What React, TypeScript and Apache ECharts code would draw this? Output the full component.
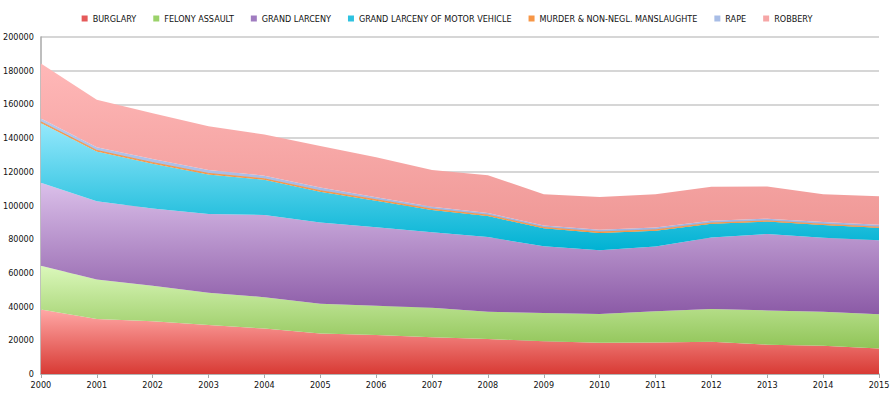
import React, { useEffect, useRef } from "react";
import * as echarts from "echarts";

const years = ["2000","2001","2002","2003","2004","2005","2006","2007","2008","2009","2010","2011","2012","2013","2014","2015"];
const burglary = [38352,32694,31275,29110,26976,23982,23143,21762,20725,19430,18600,18720,19168,17429,16765,15125];
const felonyAssault = [25924,23453,21147,19139,18622,17750,17309,17493,16284,16773,16956,18482,19381,20297,20207,20270];
const grandLarceny = [49237,46329,45771,46751,48763,48243,46625,44924,44242,39580,37835,38501,42497,45368,43862,44005];
const grandLarcenyMV = [35442,29531,26656,23413,20884,18246,15745,13174,12482,10670,10329,9314,8093,7400,7664,7332];
const murder = [673,649,587,597,570,539,596,496,523,471,536,515,419,335,333,352];
const rape = [2068,1930,2144,2070,1905,1858,1525,1351,1299,1205,1373,1420,1445,1378,1352,1438];
const robbery = [32562,28202,27229,25989,24373,24722,23739,21809,22401,18601,19486,19717,20144,19128,16539,16931];

const seriesDefs = [
  { name: "BURGLARY", data: burglary, solid: "#e55a5a", top: "#ffa8a6", bottom: "#d83a34" },
  { name: "FELONY ASSAULT", data: felonyAssault, solid: "#9bd26a", top: "#dbf8bb", bottom: "#90c457" },
  { name: "GRAND LARCENY", data: grandLarceny, solid: "#a07cc0", top: "#dbc0ea", bottom: "#8b5aa6" },
  { name: "GRAND LARCENY OF MOTOR VEHICLE", data: grandLarcenyMV, solid: "#2ec2e0", top: "#95e8fc", bottom: "#00b2d3" },
  { name: "MURDER & NON-NEGL. MANSLAUGHTE", data: murder, solid: "#f79646", top: "#f79646", bottom: "#f08a30" },
  { name: "RAPE", data: rape, solid: "#a8bde6", top: "#b4c8ee", bottom: "#9fb4e0" },
  { name: "ROBBERY", data: robbery, solid: "#f6a6a6", top: "#ffb8b8", bottom: "#ef9896" },
];

export default function App() {
  const ref = useRef<HTMLDivElement>(null);
  useEffect(() => {
    if (!ref.current) return;
    const chart = echarts.init(ref.current, null, { renderer: "svg" });
    const font = "'DejaVu Sans Condensed', 'DejaVu Sans', sans-serif";
    chart.setOption({
      animation: false,
      backgroundColor: "#ffffff",
      legend: {
        top: 9,
        left: "center",
        icon: "rect",
        itemWidth: 6,
        itemHeight: 6,
        itemGap: 17,
        textStyle: { fontFamily: font, fontSize: 9, color: "#111" },
        data: seriesDefs.map((s) => s.name),
      },
      grid: { left: 40, right: 15, top: 37, bottom: 22 },
      xAxis: {
        type: "category",
        data: years,
        boundaryGap: false,
        axisLine: { lineStyle: { color: "#a8a8a8", width: 1.5 } },
        axisTick: { show: true, length: 4, lineStyle: { color: "#a8a8a8" } },
        axisLabel: { fontFamily: font, fontSize: 9, color: "#111", margin: 6 },
      },
      yAxis: {
        type: "value",
        min: 0,
        max: 200000,
        interval: 20000,
        axisLine: { show: true, lineStyle: { color: "#a8a8a8", width: 1.5 } },
        axisTick: { show: false },
        axisLabel: {
          fontFamily: font,
          fontSize: 9,
          color: "#111",
          margin: 7,
          formatter: (v: number) => String(v),
        },
        splitLine: { lineStyle: { color: "#c8c8c8", width: 1.5 } },
      },
      series: seriesDefs.map((s) => ({
        name: s.name,
        type: "line",
        stack: "total",
        data: s.data,
        showSymbol: false,
        symbol: "none",
        itemStyle: { color: s.solid },
        lineStyle: s.name.startsWith("MURDER")
          ? { width: 1, color: "#f79646" }
          : { width: 0 },
        areaStyle: {
          opacity: 1,
          color: new echarts.graphic.LinearGradient(0, 0, 0, 1, [
            { offset: 0, color: s.top },
            { offset: 1, color: s.bottom },
          ]),
        },
      })),
    });
    return () => chart.dispose();
  }, []);
  return (
    <div
      ref={ref}
      style={{ position: "fixed", left: 0, top: 0, width: 894, height: 396 }}
    />
  );
}
